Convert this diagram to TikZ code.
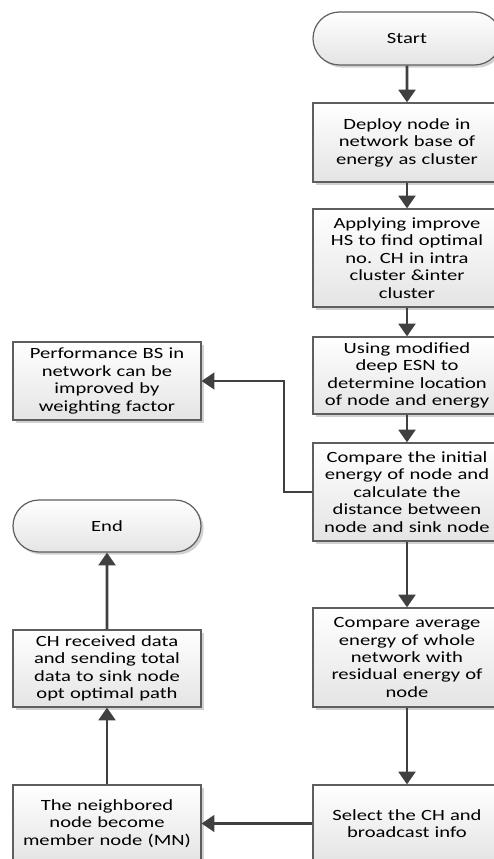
\documentclass[tikz,border=0pt]{standalone}
\usepackage{fontspec}
\setmainfont{Carlito}[FakeStretch=1.32]
\usetikzlibrary{arrows.meta,shapes.misc,shadows}
\definecolor{linec}{HTML}{404040}
\definecolor{borderc}{HTML}{5E5E5E}
\definecolor{botc}{HTML}{E4E4E4}
\tikzset{
  px/.style={x=0.75pt,y=-0.75pt},
  base/.style={draw=borderc, line width=0.9pt, top color=white, bottom color=botc,
    minimum width=141pt, text width=138pt, align=center,
    font=\fontsize{11.7}{13.1}\selectfont, inner sep=0pt,
    drop shadow={shadow xshift=2pt, shadow yshift=-2pt, fill=black, opacity=0.18}},
  procbox/.style={base, rectangle},
  termbox/.style={base, rounded rectangle},
  arr/.style={draw=linec, line width=2.2pt, -{Triangle[width=12.5pt,length=9.5pt]}},
  elb/.style={draw=linec, line width=1.6pt, -{Triangle[width=12.5pt,length=9.5pt]}}
}
\begin{document}
\begin{tikzpicture}[px]
\useasboundingbox (0,0) rectangle (493,859);
\node[termbox, minimum height=53*0.75pt] (start) at (407,38.5) {Start};
\node[procbox, minimum height=79*0.75pt] (deploy) at (407,142.5) {Deploy node in\\network base of\\energy as cluster};
\node[procbox, minimum height=98*0.75pt] (apply) at (407,258) {Applying improve\\HS to find optimal\\no. CH in intra\\cluster \&inter\\cluster};
\node[procbox, minimum height=77*0.75pt] (using) at (407,375.5) {Using modified\\deep ESN to\\determine location\\of node and energy};
\node[procbox, minimum height=98*0.75pt] (compare) at (407,492) {Compare the initial\\energy of node and\\calculate the\\distance between\\node and sink node};
\node[procbox, minimum height=99*0.75pt] (avg) at (407,657.5) {Compare average\\energy of whole\\network with\\residual energy of\\node};
\node[procbox, minimum height=77*0.75pt] (select) at (407,823.5) {Select the CH and\\broadcast info};
\node[procbox, minimum height=78*0.75pt] (perf) at (107,381) {Performance BS in\\network can be\\improved by\\weighting factor};
\node[termbox, minimum height=52*0.75pt] (end) at (107,526) {End};
\node[procbox, minimum height=77*0.75pt] (chrec) at (107,668.5) {CH received data\\and sending total\\data to sink node\\opt optimal path};
\node[procbox, minimum height=77*0.75pt] (neigh) at (107,823.5) {The neighbored\\node become\\member node (MN)};
\draw[arr] (start) -- (deploy);
\draw[arr] (deploy) -- (apply);
\draw[arr] (apply) -- (using);
\draw[arr] (using) -- (compare);
\draw[arr] (compare) -- (avg);
\draw[arr] (avg) -- (select);
\draw[elb] (compare.west) -- ++(-28,0) |- (perf.east);
\draw[elb] (select.west) -- (neigh.east);
\draw[arr] (neigh) -- (chrec);
\draw[arr] (chrec) -- (end);
\end{tikzpicture}
\end{document}
